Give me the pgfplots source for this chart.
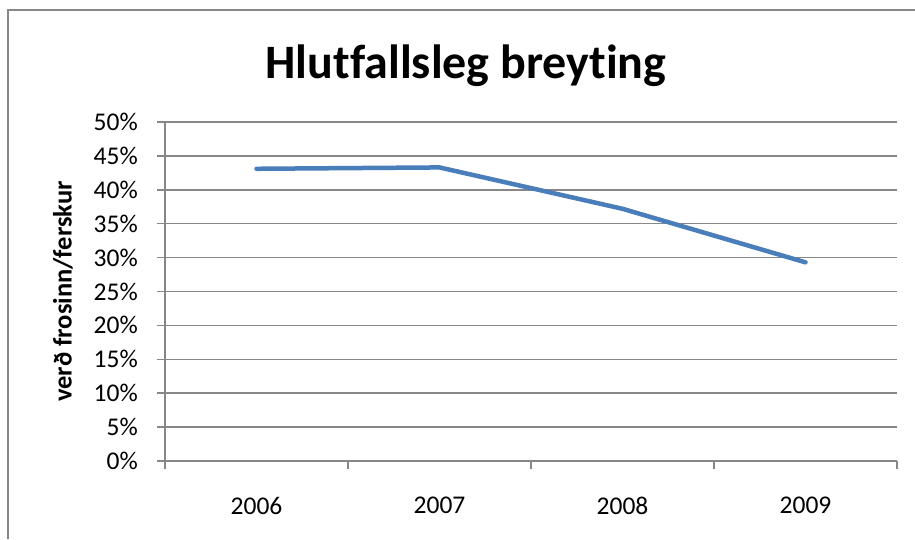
\documentclass[border=0pt]{standalone}
\usepackage{pgfplots}
\pgfplotsset{compat=1.18}
\usepackage{fontspec}
\setmainfont{Carlito}[Ligatures=NoCommon]
\definecolor{gridc}{HTML}{878787}
\definecolor{lineblue}{HTML}{4A7EBB}
\begin{document}
\begin{tikzpicture}[x=1pt,y=1pt]
\path[use as bounding box] (0,0) rectangle (915,539);
\draw[gridc, line width=1.2pt] (8,0) -- (8,529) -- (915,529);
\node[font=\fontsize{48}{56}\selectfont\bfseries] at (466,473) {Hlutfallsleg breyting};
\node[font=\fontsize{26.5}{30}\selectfont\bfseries, rotate=90] at (63,247.5) {verð frosinn/ferskur};
\begin{axis}[
  at={(165pt,78pt)}, anchor=south west,
  scale only axis, width=732pt, height=339pt,
  xmin=-0.5, xmax=3.5, ymin=0, ymax=50,
  axis x line*=bottom, axis y line*=left,
  axis line style={-, gridc, line width=1.5pt},
  xtick={-0.5,0.5,1.5,2.5,3.5},
  xticklabels={2006,2007,2008,2009},
  x tick label as interval,
  ytick={0,5,...,50},
  yticklabel={\pgfmathprintnumber{\tick}\%},
  /pgf/number format/assume math mode=true,
  tick align=outside, major tick length=8pt,
  tick style={gridc, line width=1.5pt},
  ymajorgrids, xmajorgrids=false,
  grid style={gridc, line width=1.5pt},
  ticklabel style={font=\fontsize{25.5}{30}\selectfont},
  yticklabel style={inner sep=0pt, xshift=-19pt},
  xticklabel style={inner sep=0pt, yshift=-28pt},
  clip=false,
]
\addplot[lineblue, line width=4.5pt, line cap=round, line join=round] coordinates {
  (0,43.1) (1,43.3) (2,37.2) (3,29.3)
};
\end{axis}
\end{tikzpicture}
\end{document}
